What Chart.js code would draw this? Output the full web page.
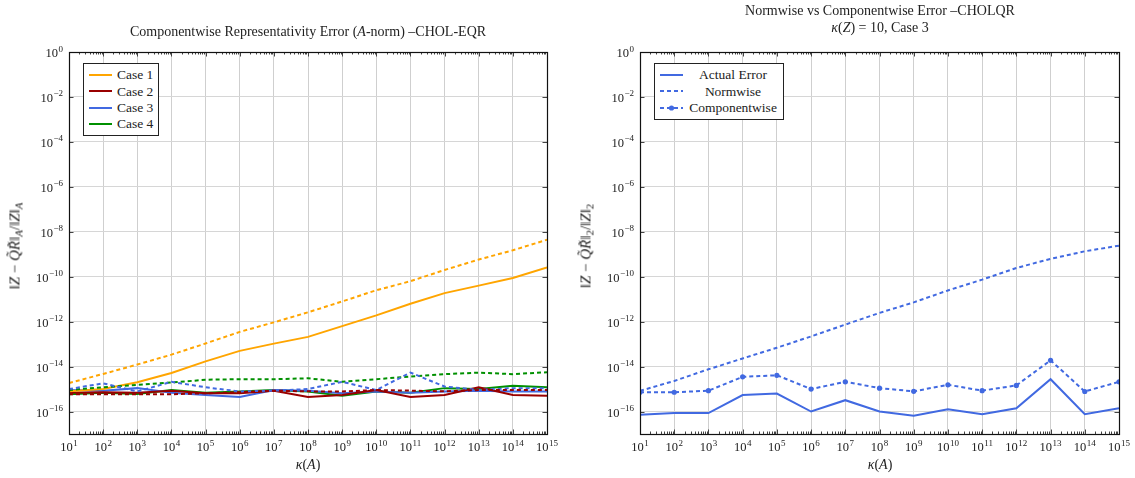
<!DOCTYPE html>
<html>
<head>
<meta charset="utf-8">
<script src="https://cdn.jsdelivr.net/npm/chart.js@4.4.1/dist/chart.umd.min.js"></script>
<style>
  html,body{margin:0;padding:0;background:#fff;}
  #wrap{position:relative;width:1135px;height:478px;font-family:"Liberation Serif","DejaVu Serif",serif;color:#222;}
  .pane{position:absolute;top:0;height:478px;}
  .title{position:absolute;white-space:nowrap;transform:translateX(-50%);font-size:14px;line-height:1;}
  .ylab{position:absolute;white-space:nowrap;font-size:15px;line-height:1;transform:translate(-50%,-50%) rotate(-90deg);}
  .xlab{position:absolute;white-space:nowrap;font-size:14px;line-height:1;transform:translate(-50%,-50%);}
  .legend{position:absolute;border:1px solid #222;background:#fff;padding:3px 5px 3px 5px;font-size:13.5px;}
  .legend .row{display:flex;align-items:center;height:16.3px;}
  .legend svg{flex:none;margin-right:5px;}
  .legend .txt{line-height:1;}
  sub{font-size:72%;vertical-align:-0.3em;}
</style>
</head>
<body>
<div id="wrap">
  <div class="pane" style="left:0;width:567px;"><canvas id="c1" width="567" height="478"></canvas></div>
  <div class="pane" style="left:567px;width:568px;"><canvas id="c2" width="568" height="478"></canvas></div>

  <div class="title" style="left:308px;top:25px;">Componentwise Representativity Error (<i>A</i>-norm) –CHOL-EQR</div>
  <div class="title" style="left:880px;top:4px;">Normwise vs Componentwise Error –CHOLQR</div>
  <div class="title" style="left:880px;top:21px;"><i>κ</i>(<i>Z</i>) = 10, Case 3</div>

  <div class="ylab" style="left:16px;top:246px;">‖<i>Z</i> − <i>Q̃R̃</i>‖<sub><i>A</i></sub>/‖<i>Z</i>‖<sub><i>A</i></sub></div>
  <div class="ylab" style="left:587px;top:246px;">‖<i>Z</i> − <i>Q̃R̃</i>‖<sub>2</sub>/‖<i>Z</i>‖<sub>2</sub></div>
  <div class="xlab" style="left:308px;top:465px;"><i>κ</i>(<i>A</i>)</div>
  <div class="xlab" style="left:880px;top:465px;"><i>κ</i>(<i>A</i>)</div>

  <div class="legend" id="leg1" style="left:83px;top:63px;"></div>
  <div class="legend" id="leg2" style="left:654px;top:63px;"></div>
</div>
<script>
// ---- data ----
const kappa = [1e1,1e2,1e3,1e4,1e5,1e6,1e7,1e8,1e9,1e10,1e11,1e12,1e13,1e14,1e15];
const yTickValues = [1e0,1e-2,1e-4,1e-6,1e-8,1e-10,1e-12,1e-14,1e-16];

// Left chart: actual (solid) and componentwise bound (dashed) per case
const case1Actual = [7.9e-16,1.0e-15,2.0e-15,5.2e-15,1.7e-14,5.0e-14,1.05e-13,2.1e-13,6.3e-13,1.9e-12,6.3e-12,1.86e-11,4.0e-11,8.7e-11,2.57e-10];
const case1Bound  = [1.86e-15,4.7e-15,1.23e-14,3.4e-14,1.07e-13,3.5e-13,9.3e-13,2.6e-12,7.9e-12,2.5e-11,6.3e-11,2.0e-10,5.8e-10,1.5e-9,4.4e-9];
const case2Actual = [6.9e-16,7.2e-16,6.9e-16,8.5e-16,6.5e-16,6.5e-16,8.5e-16,4.4e-16,5.5e-16,9.1e-16,4.4e-16,5.5e-16,1.2e-15,5.5e-16,5.1e-16];
const case2Bound  = [5.9e-16,5.9e-16,5.9e-16,5.9e-16,6.5e-16,7.2e-16,8.5e-16,7.9e-16,7.8e-16,9.1e-16,8.5e-16,7.9e-16,9.1e-16,9.1e-16,9.1e-16];
const case3Actual = [9.1e-16,8.5e-16,1.1e-15,6.9e-16,5.5e-16,4.4e-16,9.1e-16,8.5e-16,6.5e-16,7.8e-16,6.9e-16,7.8e-16,8.5e-16,7.8e-16,7.8e-16];
const case3Bound  = [1.0e-15,1.8e-15,7.8e-16,2.1e-15,1.2e-15,7.8e-16,8.5e-16,1.0e-15,2.1e-15,9.1e-16,5.4e-15,1.3e-15,9.1e-16,1.1e-15,1.1e-15];
const case4Actual = [5.9e-16,6.9e-16,6.0e-16,9.1e-16,6.9e-16,7.8e-16,9.1e-16,7.8e-16,5.1e-16,7.8e-16,6.9e-16,1.1e-15,1.0e-15,1.4e-15,1.2e-15];
const case4Bound  = [9.1e-16,1.2e-15,1.55e-15,1.95e-15,2.6e-15,2.75e-15,2.75e-15,3.0e-15,2.1e-15,2.75e-15,3.6e-15,4.6e-15,5.4e-15,4.6e-15,5.6e-15];

// Right chart
const actualError   = [7.1e-17,8.5e-17,8.5e-17,5.4e-16,6.3e-16,1.0e-16,3.2e-16,1.0e-16,6.5e-17,1.26e-16,7.6e-17,1.4e-16,2.75e-15,7.6e-17,1.4e-16];
const normwise      = [8.3e-16,2.3e-15,7.6e-15,2.3e-14,6.9e-14,2.2e-13,7.4e-13,2.45e-12,7.2e-12,2.45e-11,7.4e-11,2.45e-10,6.2e-10,1.35e-9,2.4e-9];
const componentwise = [7.2e-16,7.2e-16,8.5e-16,3.5e-15,4.1e-15,1.0e-15,2.1e-15,1.1e-15,7.9e-16,1.55e-15,8.5e-16,1.45e-15,1.9e-14,7.8e-16,2.1e-15];

const caseLabels = ['Case 1','Case 2','Case 3','Case 4'];
const rightLabels = ['Actual Error','Normwise','Componentwise'];

// ---- styling ----
const ORANGE='#ffa500', DARKRED='#990000', BLUE='#4169e1', GREEN='#009000';
const DASH=[4,3];
const FONT='"Liberation Serif","DejaVu Serif",serif';

function expOf(v){return Math.round(Math.log10(v));}
function expText(e){return String(e).replace('-','\u2212');}

const pts = arr => arr.map((y,i)=>({x:kappa[i],y}));

function ds(label,data,color,dashed,opts={}){
  return Object.assign({label,data:pts(data),borderColor:color,backgroundColor:color,borderWidth:2,
    borderDash:dashed?DASH:[],pointRadius:0,tension:0,fill:false},opts);
}

const BASE_FONT='12.5px '+FONT, EXP_FONT='9px '+FONT;

const framePlugin={
  id:'frame',
  afterDatasetsDraw(chart){
    const {ctx,chartArea:a,scales}=chart;
    const xs=scales.x, ys=scales.y;
    ctx.save();
    ctx.strokeStyle='#444';ctx.lineWidth=1;
    ctx.beginPath();
    for(let k=1;k<=15;k++){
      const major=Math.pow(10,k);
      const px=Math.round(xs.getPixelForValue(major))+0.5;
      ctx.moveTo(px,a.bottom);ctx.lineTo(px,a.bottom-4.5);
      ctx.moveTo(px,a.top);ctx.lineTo(px,a.top+4.5);
      if(k<15){
        for(let m=2;m<=9;m++){
          const p=Math.round(xs.getPixelForValue(m*major))+0.5;
          ctx.moveTo(p,a.bottom);ctx.lineTo(p,a.bottom-2.5);
          ctx.moveTo(p,a.top);ctx.lineTo(p,a.top+2.5);
        }
      }
    }
    ys.ticks.forEach(t=>{
      const py=Math.round(ys.getPixelForValue(t.value))+0.5;
      ctx.moveTo(a.left,py);ctx.lineTo(a.left+4.5,py);
      ctx.moveTo(a.right,py);ctx.lineTo(a.right-4.5,py);
    });
    ctx.stroke();
    ctx.strokeStyle='#111';ctx.lineWidth=1.2;
    ctx.strokeRect(Math.round(a.left)+0.5,Math.round(a.top)+0.5,Math.round(a.right-a.left),Math.round(a.bottom-a.top));

    // tick labels: 10 with raised exponent
    ctx.fillStyle='#222';ctx.textBaseline='alphabetic';
    xs.ticks.forEach(t=>{
      const px=xs.getPixelForValue(t.value);
      const e=expText(expOf(t.value));
      ctx.font=BASE_FONT;const wb=ctx.measureText('10').width;
      ctx.font=EXP_FONT;const we=ctx.measureText(e).width;
      const x0=px-(wb+we+0.5)/2;
      ctx.font=BASE_FONT;ctx.textAlign='left';ctx.fillText('10',x0,a.bottom+17);
      ctx.font=EXP_FONT;ctx.fillText(e,x0+wb+0.5,a.bottom+11.5);
    });
    ys.ticks.forEach(t=>{
      const py=ys.getPixelForValue(t.value);
      const e=expText(expOf(t.value));
      ctx.font=EXP_FONT;const we=ctx.measureText(e).width;
      const xr=a.left-6;
      ctx.textAlign='right';
      ctx.fillText(e,xr,py-0.5);
      ctx.font=BASE_FONT;ctx.fillText('10',xr-we-0.5,py+5);
    });
    ctx.restore();
  }
};

function makeOptions(yWidth,padRight){
  return {
    responsive:false,animation:false,devicePixelRatio:1,
    layout:{padding:{top:52,right:padRight,bottom:0,left:0}},
    plugins:{legend:{display:false},tooltip:{enabled:false},title:{display:false}},
    scales:{
      x:{type:'logarithmic',min:1e1,max:1e15,
        afterBuildTicks:s=>{s.ticks=kappa.map(v=>({value:v}));},
        afterFit:s=>{s.height=44;},
        grid:{color:'#cfcfcf',lineWidth:1,drawTicks:false},
        border:{display:false},
        ticks:{display:false}
      },
      y:{type:'logarithmic',min:1e-17,max:1e0,
        afterBuildTicks:s=>{s.ticks=yTickValues.map(v=>({value:v}));},
        afterFit:s=>{s.width=yWidth;},
        grid:{color:'#d6d6d6',lineWidth:1,drawTicks:false},
        border:{display:false},
        ticks:{display:false}
      }
    }
  };
}

new Chart(document.getElementById('c1'),{
  type:'line',
  data:{datasets:[
    ds(caseLabels[0]+' bound',case1Bound,ORANGE,true),
    ds(caseLabels[1]+' bound',case2Bound,DARKRED,true),
    ds(caseLabels[2]+' bound',case3Bound,BLUE,true),
    ds(caseLabels[3]+' bound',case4Bound,GREEN,true),
    ds(caseLabels[0],case1Actual,ORANGE,false),
    ds(caseLabels[1],case2Actual,DARKRED,false),
    ds(caseLabels[2],case3Actual,BLUE,false),
    ds(caseLabels[3],case4Actual,GREEN,false)
  ]},
  options:makeOptions(69,20),
  plugins:[framePlugin]
});

new Chart(document.getElementById('c2'),{
  type:'line',
  data:{datasets:[
    ds(rightLabels[0],actualError,BLUE,false),
    ds(rightLabels[1],normwise,BLUE,true),
    ds(rightLabels[2],componentwise,BLUE,true,{pointRadius:2.6,pointBorderWidth:0,pointBackgroundColor:BLUE})
  ]},
  options:makeOptions(73,16),
  plugins:[framePlugin]
});

// ---- HTML legends ----
function sample(color,dashed,marker){
  let s='<svg width="23" height="6" viewBox="0 0 23 6"><line x1="0" y1="3" x2="23" y2="3" stroke="'+color+'" stroke-width="2"'+(dashed?' stroke-dasharray="4,3"':'')+'/>';
  if(marker) s+='<circle cx="11.5" cy="3" r="2.6" fill="'+color+'"/>';
  return s+'</svg>';
}
const leg1=document.getElementById('leg1');
const cols=[ORANGE,DARKRED,BLUE,GREEN];
leg1.innerHTML=caseLabels.map((l,i)=>'<div class="row">'+sample(cols[i],false,false)+'<span class="txt">'+l+'</span></div>').join('');
const leg2=document.getElementById('leg2');
const rs=[[false,false],[true,false],[true,true]];
leg2.innerHTML=rightLabels.map((l,i)=>'<div class="row">'+sample(BLUE,rs[i][0],rs[i][1])+'<span class="txt" style="flex:1;text-align:center;">'+l+'</span></div>').join('');
leg2.style.width='118px';
</script>
</body>
</html>
